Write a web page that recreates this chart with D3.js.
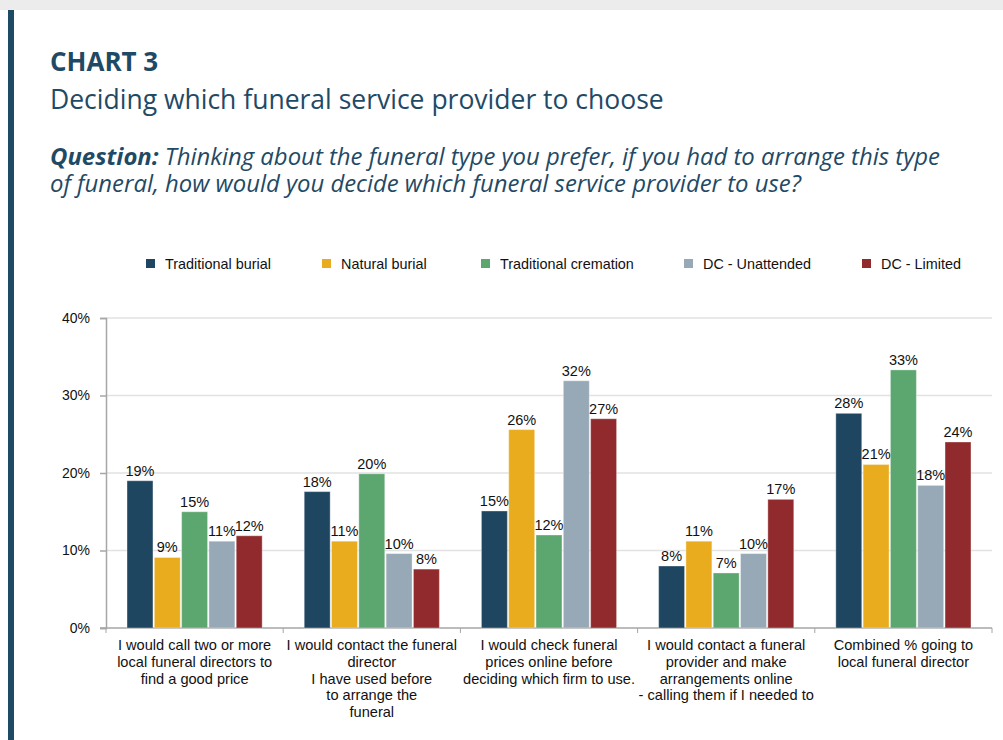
<!DOCTYPE html>
<html>
<head>
<meta charset="utf-8">
<script src="https://cdn.jsdelivr.net/npm/d3@7"></script>
<style>
  html, body { margin: 0; padding: 0; background: #fff; }
  #wrap { position: relative; width: 1003px; height: 740px; }
  svg { display: block; position: absolute; left: 0; top: 0; }
  #question {
    position: absolute; left: 50px; top: 141.7px;
    font-family: 'Open Sans', sans-serif; font-style: italic; font-size: 23.9px;
    line-height: 27px; color: #1f4a66; white-space: nowrap; margin: 0;
  }
</style>
</head>
<body>
<div id="wrap">
<svg id="chart" width="1003" height="740"></svg>
<p id="question"></p>
</div>
<script>
// Response categories (multi-line labels)
const categories = [
  "call-two",
  "contact-used",
  "check-online",
  "arrange-online",
  "combined"
];
const categoryLabels = [
  ["I would call two or more", "local funeral directors to", "find a good price"],
  ["I would contact the funeral", "director", "I have used before", "to arrange the", "funeral"],
  ["I would check funeral", "prices online before", "deciding which firm to use."],
  ["I would contact a funeral", "provider and make", "arrangements online", "- calling them if I needed to"],
  ["Combined % going to", "local funeral director"]
];

// Funeral types (series)
const seriesNames = ["Traditional burial", "Natural burial", "Traditional cremation", "DC - Unattended", "DC - Limited"];
const seriesColors = ["#1f4661", "#e9ac1e", "#5ca66f", "#97a8b6", "#912a2c"];

// Percent of respondents, one array per funeral type, in category order
const traditionalBurial    = [19.0, 17.6, 15.1, 8.0, 27.7];
const naturalBurial        = [9.1, 11.2, 25.6, 11.2, 21.1];
const traditionalCremation = [15.0, 19.9, 12.0, 7.1, 33.3];
const dcUnattended         = [11.2, 9.6, 31.9, 9.6, 18.4];
const dcLimited            = [11.9, 7.6, 27.0, 16.6, 24.0];
const seriesValues = [traditionalBurial, naturalBurial, traditionalCremation, dcUnattended, dcLimited];

const yTicks = [0, 10, 20, 30, 40];

const svg = d3.select("#chart");
const navy = "#1f4a66";
const sans = "'Liberation Sans', Arial, sans-serif";
const openSans = "'Open Sans', sans-serif";

// Page frame: grey strip along the top, accent bar on the left
svg.append("rect").attr("x", 0).attr("y", 0).attr("width", 1003).attr("height", 10).attr("fill", "#ececec");
svg.append("rect").attr("x", 8).attr("y", 10).attr("width", 6).attr("height", 730).attr("fill", navy);

// Headings
svg.append("text").attr("x", 50).attr("y", 71)
  .attr("font-family", openSans).attr("font-weight", 700).attr("font-size", 26)
  .attr("fill", navy).text("CHART 3");
svg.append("text").attr("x", 50).attr("y", 109)
  .attr("font-family", openSans).attr("font-size", 26.5)
  .attr("fill", navy).text("Deciding which funeral service provider to choose");

// Survey question as a two-line paragraph
const question = d3.select("#question");
question.append("b").text("Question:");
question.append("span").text(" Thinking about the funeral type you prefer, if you had to arrange this type");
question.append("br");
question.append("span").text("of funeral, how would you decide which funeral service provider to use?");

// Scales
const plotLeft = 106, plotRight = 992, plotTop = 318, plotBottom = 628;
const x0 = d3.scaleBand().domain(categories).range([plotLeft, plotRight]).paddingInner(0).paddingOuter(0);
const x1 = d3.scaleBand().domain(seriesNames).range([0, x0.bandwidth()]).paddingInner(0.05).paddingOuter(0.77);
const y = d3.scaleLinear().domain([0, 40]).range([plotBottom, plotTop]);

// Gridlines
svg.append("g")
  .selectAll("line")
  .data(yTicks.filter(t => t > 0))
  .join("line")
  .attr("x1", plotLeft).attr("x2", plotRight)
  .attr("y1", d => y(d)).attr("y2", d => y(d))
  .attr("stroke", "#e2e2e2").attr("stroke-width", 1.5);

// Y axis
const yAxis = svg.append("g")
  .attr("transform", `translate(${plotLeft},0)`)
  .call(d3.axisLeft(y).tickValues(yTicks).tickSize(6).tickFormat(d => d + "%"));
yAxis.select(".domain").attr("stroke", "#a6a6a6").attr("stroke-width", 1.5);
yAxis.selectAll(".tick line").attr("stroke", "#a6a6a6").attr("stroke-width", 1.5);
yAxis.selectAll(".tick text")
  .attr("x", -16)
  .attr("font-family", sans).attr("font-size", 14).attr("fill", "#111");

// X axis with tick marks at group boundaries
const xAxisG = svg.append("g").attr("transform", `translate(0,${plotBottom})`);
xAxisG.append("line").attr("x1", plotLeft - 6).attr("x2", plotRight)
  .attr("y1", 0).attr("y2", 0).attr("stroke", "#a6a6a6").attr("stroke-width", 1.5);
const boundaries = categories.map(c => x0(c)).concat([x0(categories[categories.length - 1]) + x0.bandwidth()]);
xAxisG.selectAll("line.tk").data(boundaries).join("line").attr("class", "tk")
  .attr("x1", d => d).attr("x2", d => d).attr("y1", 0).attr("y2", 5)
  .attr("stroke", "#a6a6a6").attr("stroke-width", 1);

// Category labels
const catLabels = xAxisG.selectAll("text.cat").data(categories).join("text").attr("class", "cat")
  .attr("text-anchor", "middle")
  .attr("font-family", sans).attr("font-size", 14.6).attr("fill", "#111");
catLabels.each(function(c, i) {
  const t = d3.select(this);
  categoryLabels[i].forEach((line, j) => {
    t.append("tspan").attr("x", x0(c) + x0.bandwidth() / 2).attr("y", 22 + j * 16.8).text(line);
  });
});

// Bars
const fmt = d3.format(".0f");
const groups = svg.append("g").selectAll("g").data(categories).join("g")
  .attr("transform", c => `translate(${x0(c)},0)`);

groups.each(function(c, ci) {
  const g = d3.select(this);
  const rows = seriesNames.map((s, si) => ({ s, si, v: seriesValues[si][ci] }));
  g.selectAll("rect").data(rows).join("rect")
    .attr("x", d => x1(d.s))
    .attr("y", d => y(d.v))
    .attr("width", x1.bandwidth())
    .attr("height", d => y(0) - y(d.v))
    .attr("fill", d => seriesColors[d.si])
    .attr("stroke", "#ffffff").attr("stroke-opacity", 0.35).attr("stroke-width", 1);
  g.selectAll("text").data(rows).join("text")
    .attr("x", d => x1(d.s) + x1.bandwidth() / 2)
    .attr("y", d => y(d.v) - 5)
    .attr("text-anchor", "middle")
    .attr("font-family", sans).attr("font-size", 14.5).attr("fill", "#111")
    .text(d => fmt(d.v) + "%");
});

// Legend
const legendX = [146, 322, 481, 684, 862];
const legend = svg.append("g").selectAll("g").data(seriesNames).join("g")
  .attr("transform", (d, i) => `translate(${legendX[i]},259)`);
legend.append("rect").attr("width", 9).attr("height", 9).attr("fill", (d, i) => seriesColors[i]);
legend.append("text").attr("x", 19).attr("y", 10)
  .attr("font-family", sans).attr("font-size", 14.4).attr("fill", "#111")
  .text(d => d);
</script>
</body>
</html>
